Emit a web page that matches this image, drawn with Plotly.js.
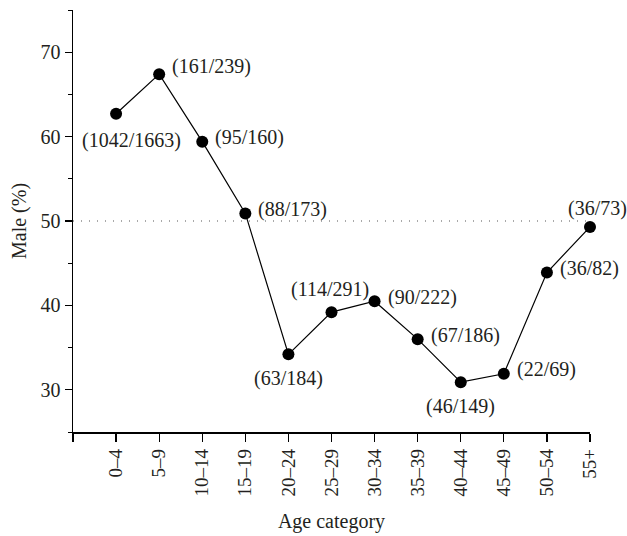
<!DOCTYPE html>
<html>
<head>
<meta charset="utf-8">
<script src="https://cdn.plot.ly/plotly-3.0.1.min.js"></script>
<style>html,body{margin:0;padding:0;background:#fff;}#chart{width:627px;height:536px;}</style>
</head>
<body>
<div id="chart"></div>
<script>
const categories = ["0–4","5–9","10–14","15–19","20–24","25–29","30–34","35–39","40–44","45–49","50–54","55+"];
const malePercent = [62.7, 67.4, 59.4, 50.9, 34.2, 39.2, 40.5, 36.0, 30.9, 31.9, 43.9, 49.3];
const countLabels = ["(1042/1663)","(161/239)","(95/160)","(88/173)","(63/184)","(114/291)","(90/222)","(67/186)","(46/149)","(22/69)","(36/82)","(36/73)"];
// label placement relative to each point
const labelPlacement = ["belowRight","right","right","right","below","above","right","right","below","right","right","above"];
const referenceLine = 50;

const font = "Liberation Serif, Times New Roman, serif";
const textColor = "#231f20";
const xIdx = categories.map((c, i) => i);

const placeMap = {
  right:      {xanchor:"left",   yanchor:"middle", xshift:11, yshift:4},
  below:      {xanchor:"center", yanchor:"top",    xshift:0,  yshift:-11},
  belowRight: {xanchor:"center", yanchor:"top",    xshift:15, yshift:-13},
  above:      {xanchor:"center", yanchor:"bottom", xshift:0,  yshift:9}
};
const annotations = countLabels.map((t, i) => Object.assign({
  x: xIdx[i], y: malePercent[i], xref: "x", yref: "y", text: t, showarrow: false,
  font: {family: font, size: 20, color: textColor}
}, placeMap[labelPlacement[i]]));
annotations[5].xshift = -2;
annotations[11].xshift = 7;
annotations[11].yshift = 5;
annotations[1].yshift = 8;

const trace = {
  x: xIdx, y: malePercent, type: "scatter", mode: "lines+markers",
  line: {color: "#000", width: 1.2},
  marker: {color: "#000", size: 12},
  cliponaxis: false,
  hoverinfo: "skip"
};

const layout = {
  width: 627, height: 536,
  margin: {l: 73, r: 37, t: 10, b: 104},
  paper_bgcolor: "#fff", plot_bgcolor: "#fff",
  showlegend: false,
  font: {family: font, color: textColor, size: 20},
  xaxis: {
    range: [-1, 11], tickmode: "array",
    tickvals: [-1].concat(xIdx), ticktext: [""].concat(categories),
    tickangle: -90, ticks: "outside", ticklen: 8, tickwidth: 1.2, tickcolor: "#000",
    showline: true, linecolor: "#000", linewidth: 1.5, showgrid: false, zeroline: false,
    tickfont: {family: font, size: 19, color: textColor},
    title: {text: "Age category", font: {family: font, size: 20, color: textColor}, standoff: 18}
  },
  yaxis: {
    range: [25, 75], dtick: 10, tick0: 0,
    ticks: "outside", ticklen: 7, tickwidth: 1.2, tickcolor: "#000",
    minor: {dtick: 5, tick0: 0, ticks: "outside", ticklen: 4, tickcolor: "#000", tickwidth: 1},
    showline: true, linecolor: "#000", linewidth: 1.5, showgrid: false, zeroline: false,
    tickfont: {family: font, size: 20, color: textColor},
    title: {text: "Male (%)", font: {family: font, size: 20, color: textColor}, standoff: 8}
  },
  shapes: [{
    type: "line", xref: "paper", x0: 0, x1: 1, yref: "y", y0: referenceLine, y1: referenceLine,
    line: {color: "#555", width: 1.2, dash: "1px,7px"}, layer: "below"
  }],
  annotations: annotations
};

Plotly.newPlot("chart", [trace], layout, {displayModeBar: false, staticPlot: true});
</script>
</body>
</html>
